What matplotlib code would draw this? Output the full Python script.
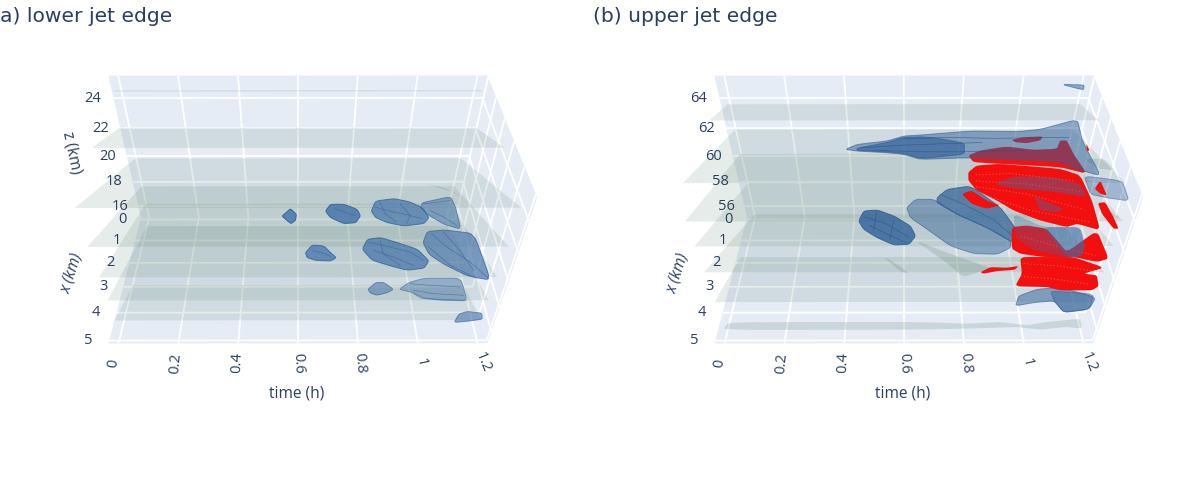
import matplotlib
matplotlib.use('Agg')
import matplotlib.pyplot as plt
from mpl_toolkits.mplot3d import proj3d
from mpl_toolkits.mplot3d.art3d import Poly3DCollection

plt.rcParams['grid.color'] = 'white'
plt.rcParams['grid.linewidth'] = 1.3
plt.rcParams['font.family'] = ['Open Sans', 'DejaVu Sans']

INK = '#2a3f5f'

time_ticks = [0, 0.2, 0.4, 0.6, 0.8, 1, 1.2]
time_labels = ['0', '0.2', '0.4', '0.6', '0.8', '1', '1.2']
time_rot = [82, 85, 88, -88, -85, -78, -68]
x_ticks = [0, 1, 2, 3, 4, 5]
lower_z_ticks = [16, 18, 20, 22, 24]
upper_z_ticks = [56, 58, 60, 62, 64]

# sheets: x and z at far edge, x and z at near edge
lower_sheets = [
    (0.32, 15.0, 4.93, 18.2),
    (-0.04, 16.3, 5.0, 20.1),
    (0.0, 17.8, 5.1, 22.4),
    (0.02, 20.0, 5.1, 24.8),
    (0.78, 23.2, 3.2, 25.3),
    (2.94, 15.0, 4.9, 16.5),
    (0.5, 25.2, 0.6, 25.25),
]
upper_sheets = [
    (2.2, 55.9, 4.9, 58.0),
    (-0.09, 55.3, 4.97, 60.4),
    (-0.09, 57.9, 5.03, 62.3),
    (0.0, 60.3, 5.1, 64.0),
    (-0.03, 62.0, 4.6, 65.4),
    (0.14, 63.9, 1.95, 65.2),
]

# outlines, (t list, x list)
lower_blobs = [
    ([.545, .562, .573, .593, .590, .575, .557], [2.617, 2.532, 2.474, 2.584, 2.701, 2.765, 2.681]),
    ([.690, .707, .752, .796, .807, .791, .752, .707], [2.52, 2.39, 2.39, 2.487, 2.617, 2.746, 2.765, 2.649]),
    ([.843, .858, .919, .969, 1.014, 1.036, 1.019, .952, .897, .858], [2.52, 2.326, 2.28, 2.339, 2.455, 2.649, 2.765, 2.811, 2.746, 2.649]),
    ([1.014, 1.108, 1.125, 1.142, 1.086, 1.03, 1.008], [2.358, 2.241, 2.455, 2.875, 2.778, 2.584, 2.455]),
    ([.623, .646, .685, .707, .726, .707, .657, .629], [3.328, 3.179, 3.199, 3.328, 3.425, 3.49, 3.477, 3.425]),
    ([.813, .83, .874, .93, .997, 1.036, 1.019, .963, .908, .846], [3.263, 3.07, 3.037, 3.134, 3.263, 3.49, 3.632, 3.671, 3.587, 3.477]),
    ([1.016, 1.03, 1.086, 1.186, 1.242, 1.164, 1.086, 1.036], [3.134, 2.921, 2.888, 2.96, 3.865, 3.781, 3.555, 3.36]),
    ([.832, .858, .885, .917, .897, .863, .841], [4.04, 3.91, 3.91, 4.04, 4.104, 4.156, 4.117]),
    ([.936, .969, 1.019, 1.142, 1.164, 1.075, 1.019, .98], [4.04, 3.91, 3.826, 3.826, 4.266, 4.253, 4.214, 4.104]),
    ([1.12, 1.136, 1.164, 1.212, 1.214, 1.175], [4.686, 4.525, 4.473, 4.505, 4.622, 4.654]),
]
lower_blob_alpha = [.8, .8, .68, .52, .72, .7, .62, .52, .42, .55]

lower_cracks = [
    ([.857, .919, .952, 1.014], [2.454, 2.551, 2.584, 2.681]),
    ([.874, .891, .93], [2.357, 2.584, 2.745]),
    ([.941, .975, .963], [2.39, 2.616, 2.778]),
    ([.835, .908, .975, 1.019], [3.134, 3.231, 3.328, 3.489]),
    ([.852, .919, .986], [3.295, 3.425, 3.586]),
    ([.874, .885, .941], [3.101, 3.36, 3.586]),
    ([1.047, 1.097, 1.175, 1.237], [2.972, 3.231, 3.522, 3.845]),
    ([1.036, 1.109, 1.198], [3.231, 3.586, 3.845]),
    ([1.086, 1.131, 1.187], [2.939, 3.231, 3.683]),
    ([1.019, 1.07, 1.108], [2.39, 2.357, 2.325]),
    ([1.041, 1.086, 1.131], [2.519, 2.648, 2.81]),
    ([.975, 1.042, 1.142], [3.942, 3.974, 4.007]),
    ([.986, 1.053, 1.153], [4.071, 4.136, 4.168]),
    ([.986, 1.014, 1.164], [4.136, 4.233, 4.265]),
    ([.72, .76, .79], [2.48, 2.56, 2.62]),
    ([.65, .69, .71], [3.3, 3.36, 3.42]),
]

lower_green = [
    ([1.03, 1.097, 1.159, 1.12], [2.002, 2.099, 2.313, 2.164]),
]

upper_green = [
    ([.531, .553, .62, .592], [3.425, 3.477, 3.748, 3.716]),
    ([.637, .754, .91, .865, .798, .732], [3.102, 3.36, 3.684, 3.684, 3.813, 3.49]),
    ([1.2, 1.267, 1.306, 1.25], [1.517, 1.517, 1.743, 1.711]),
    ([1.256, 1.322, 1.289], [2.39, 2.681, 2.649]),
    ([-.004, .013, .654, .81, .921, 1.01, 1.077, 1.189, 1.194, 1.144, 1.055, .977, .81, .587],
     [4.835, 4.686, 4.686, 4.719, 4.686, 4.751, 4.686, 4.622, 4.816, 4.783, 4.835, 4.783, 4.816, 4.835]),
]

# under the blue ones
upper_red_back = [
    ([.815, .854, .943, 1.033, 1.111, 1.122, 1.144, 1.166, 1.211, 1.122, .921, .832],
     [1.452, 1.355, 1.278, 1.342, 1.323, 1.161, 1.161, 1.42, 1.808, 1.679, 1.614, 1.582]),
    ([.96, .999, 1.064, 1.055, 1.01, .971], [1.148, 1.097, 1.084, 1.161, 1.213, 1.194]),
]

upper_blue = [
    ([.403, .442, .542, .598, .654, .821, .977, 1.055, 1.178, 1.194, 1.256, 1.178, 1.111, .815, .654, .598, .542, .442],
     [1.323, 1.226, 1.161, 1.064, 1.045, .967, .98, .935, .741, 1.161, 1.84, 1.711, 1.549, 1.485, 1.517, 1.42, 1.388, 1.355]),
    ([.442, .542, .598, .654, .7, .8, .8, .654, .598, .542, .442], [1.3, 1.19, 1.09, 1.08, 1.1, 1.2, 1.42, 1.5, 1.4, 1.37, 1.34]),
    ([.447, .464, .509, .565, .62, .637, .615, .565, .509, .464], [2.714, 2.52, 2.5, 2.617, 2.811, 3.005, 3.166, 3.179, 3.037, 2.875]),
    ([.607, .637, .698, .776, .876, .954, .954, .91, .832, .754, .676, .62], [2.455, 2.293, 2.293, 2.584, 2.843, 3.102, 3.231, 3.36, 3.348, 3.199, 2.875, 2.649]),
    ([.709, .743, .821, .921, .977, .988, .954, .876, .776, .709], [2.261, 2.099, 2.035, 2.455, 2.908, 3.231, 3.102, 2.843, 2.584, 2.358]),
    ([.971, .982, 1.044, 1.122, 1.239, 1.217, 1.133, 1.1, 1.033], [4.363, 4.169, 4.04, 4.007, 4.201, 4.428, 4.492, 4.266, 4.298]),
    ([1.088, 1.233, 1.217, 1.133, 1.1], [4.072, 4.137, 4.428, 4.492, 4.266]),
    ([1.2, 1.328, 1.35, 1.272, 1.222], [1.84, 1.937, 2.326, 2.261, 2.196]),
    ([1.125, 1.2, 1.198], [.062, .075, .172]),
]
upper_blue_alpha = [.5, .6, .8, .45, .7, .5, .4, .38, .5]

upper_cracks = [
    ([.47, .542, .615], [2.649, 2.778, 3.037]),
    ([.486, .553, .604], [2.811, 3.005, 3.134]),
    ([.509, .498], [2.552, 2.908]),
    ([.565, .553], [2.714, 3.07]),
    ([.46, .6, .75, .86], [1.3, 1.25, 1.22, 1.2]),
    ([.5, .65, .8, 1.0], [1.35, 1.38, 1.38, 1.35]),
    ([.6, .75, .9, 1.15], [1.13, 1.1, 1.12, 1.1]),
    ([.72, .8, .9, .98], [2.2, 2.4, 2.7, 3.1]),
]

upper_red = [
    ([.815, .843, .921, 1.122, 1.189, 1.228, 1.256, 1.178, 1.144, 1.055, .966, .91, .843, .815],
     [1.776, 1.646, 1.614, 1.711, 1.84, 2.326, 2.908, 2.778, 2.843, 2.714, 2.52, 2.326, 2.131, 1.937]),
    ([.793, .826, .876, .921, .876, .826], [2.196, 2.131, 2.326, 2.423, 2.487, 2.39]),
    ([.96, 1.01, 1.077, 1.111, 1.144, 1.245, 1.284, 1.245, 1.166, 1.066, .988, .96],
     [2.843, 2.811, 2.875, 3.102, 3.328, 2.908, 3.457, 3.522, 3.425, 3.425, 3.36, 3.263]),
    ([.988, 1.088, 1.166, 1.269, 1.2, 1.245, 1.25, 1.228, 1.122, 1.077, .971, .994],
     [3.425, 3.425, 3.425, 3.632, 3.748, 3.781, 3.994, 4.072, 4.072, 4.007, 3.994, 3.748]),
    ([.856, .888, .943, .982, .971, .91, .865], [3.716, 3.62, 3.632, 3.6, 3.671, 3.697, 3.748]),
    ([1.248, 1.272, 1.3, 1.317, 1.3, 1.261], [2.377, 2.358, 2.649, 2.875, 2.875, 2.584]),
    ([1.237, 1.256, 1.278, 1.256], [2.099, 1.937, 2.229, 2.196]),
    ([1.209, 1.22, 1.211], [1.226, 1.355, 1.368]),
]

# pale marks on the red surface
red_light = [
    ([.84, .955, 1.17], [1.83, 1.8, 1.95]),
    ([.84, 1.0, 1.19], [1.95, 2.0, 2.15]),
    ([.83, 1.01, 1.2], [2.05, 2.2, 2.5]),
    ([.87, 1.01, 1.22], [2.22, 2.5, 2.75]),
    ([.99, 1.1, 1.24], [3.02, 3.2, 3.4]),
    ([1.0, 1.12, 1.24], [3.55, 3.6, 3.7]),
    ([.99, 1.1, 1.22], [3.8, 3.85, 3.95]),
]

# blue over the red
upper_blue_front = [
    ([.966, 1.066, 1.189, 1.205, 1.189, 1.144, 1.033, .971], [2.584, 2.843, 2.843, 3.231, 3.425, 3.425, 3.296, 3.037]),
    ([1.066, 1.189, 1.205, 1.189, 1.144, 1.1], [2.843, 2.843, 3.231, 3.425, 3.425, 3.1]),
    ([.899, .966, 1.1, 1.189, 1.211, 1.111, .977], [2.002, 1.86, 1.873, 2.002, 2.261, 2.164, 2.099]),
    ([1.033, 1.066, 1.133, 1.111, 1.055], [2.229, 2.326, 2.487, 2.552, 2.52]),
]
upper_front_alpha = [.3, .45, .4, .4]


def smooth(values, rounds=2):
    # light corner cutting so the outlines are not angular
    for _ in range(rounds):
        out = []
        for a, b in zip(values, values[1:] + values[:1]):
            out += [0.88 * a + 0.12 * b, 0.12 * a + 0.88 * b]
        values = out
    return values


def plane_z(x, z_top):
    # blobs sit on the tilted plane facing the camera
    return [z_top - 2 * (v + 0.1) for v in x]


def add_blob(ax, t, x, z_top, color, edge, alpha, order):
    t, x = smooth(t), smooth(x)
    face = matplotlib.colors.to_rgba(color, alpha)
    line = 'none' if edge is None else [matplotlib.colors.to_rgba(edge, min(alpha + 0.1, 1))]
    poly = Poly3DCollection([list(zip(t, x, plane_z(x, z_top)))], facecolors=[face], edgecolors=line, linewidths=0.7)
    poly.set_zorder(order)
    ax.add_collection3d(poly, autolim=False)


def add_lines(ax, lines, z_top, color, alpha, order, width=0.5, style='-'):
    for t, x in lines:
        ax.plot(t, x, plane_z(x, z_top), color=color, alpha=alpha, lw=width, ls=style, zorder=order)


def put_text(ax, x, y, z, s, rot=0):
    xp, yp, _ = proj3d.proj_transform(x, y, z, ax.get_proj())
    ax.text2D(xp, yp, s, transform=ax.transData, rotation=rot, color=INK, fontsize=10.5, ha='center', va='center')


def make_axes(left, zlo, zhi, z_ticks):
    ax = plt.gcf().add_axes([left / 1200, 44 / 500, 480 / 1200, 480 / 500], projection='3d')
    ax.patch.set_alpha(0)
    ax.computed_zorder = False
    ax.set_xlim(-0.033, 1.233, view_margin=0)
    ax.set_ylim(5.1, -0.1, view_margin=0)
    ax.set_zlim(zlo, zhi, view_margin=0)
    # focal_length also pushes the eye back, so zoom and focal go together
    ax.set_box_aspect((2.08, 1, 1.077), zoom=0.9386)
    ax.set_proj_type('persp', focal_length=0.248)
    ax.view_init(elev=43, azim=-90.05)
    ax.set_xticks(time_ticks)
    ax.set_yticks(x_ticks)
    ax.set_zticks(z_ticks)
    ax.set_xticklabels([])
    ax.set_yticklabels([])
    ax.set_zticklabels([])
    for axis in (ax.xaxis, ax.yaxis, ax.zaxis):
        axis.set_pane_color('#e5ecf6')
        axis.pane.set_edgecolor('none')
        axis.line.set_color('none')
        axis._axinfo['tick']['inward_factor'] = 0
        axis._axinfo['tick']['outward_factor'] = 0
    ax.tick_params(color='none')

    for v, s, r in zip(time_ticks, time_labels, time_rot):
        put_text(ax, v, 5.75, zlo, s, r)
    for v in x_ticks:
        put_text(ax, -0.105, v, zlo, str(v))
    for v in z_ticks:
        put_text(ax, -0.105, -0.1, v, str(v))
    return ax


def add_sheets(ax, sheets):
    for i, (x0, z0, x1, z1) in enumerate(sheets):
        verts = [[(0, x0, z0), (1.2, x0, z0), (1.2, x1, z1), (0, x1, z1)]]
        poly = Poly3DCollection(verts, facecolors=[(0.345, 0.502, 0.424, 0.15)], edgecolors='none')
        poly.set_zorder(2 + i * 0.01)
        ax.add_collection3d(poly, autolim=False)


fig = plt.figure(figsize=(12, 5), dpi=100)

ax1 = make_axes(51.5, 15, 25.4, lower_z_ticks)
add_sheets(ax1, lower_sheets)
for t, x in lower_green:
    add_blob(ax1, t, x, 25.4, '#58806c', None, 0.3, 3)
for (t, x), a in zip(lower_blobs, lower_blob_alpha):
    add_blob(ax1, t, x, 25.4, '#3f6fa6', '#2f62a0', a, 4)
add_lines(ax1, lower_cracks, 25.4, '#2a5a9a', 0.55, 5)

ax2 = make_axes(657.5, 55, 65.4, upper_z_ticks)
add_sheets(ax2, upper_sheets)
for t, x in upper_green:
    add_blob(ax2, t, x, 65.4, '#58806c', None, 0.2, 3)
for t, x in upper_red_back:
    add_blob(ax2, t, x, 65.4, '#f01414', None, 1, 4)
for (t, x), a in zip(upper_blue, upper_blue_alpha):
    add_blob(ax2, t, x, 65.4, '#2f5f97', '#2f5f97', a, 5)
add_lines(ax2, upper_cracks, 65.4, '#1f4f8c', 0.6, 5.5)
for t, x in upper_red:
    add_blob(ax2, t, x, 65.4, '#f40f0f', None, 1, 6)
add_lines(ax2, red_light, 65.4, '#ff8080', 0.55, 6.5, width=0.8, style=(0, (1, 2)))
for (t, x), a in zip(upper_blue_front, upper_front_alpha):
    add_blob(ax2, t, x, 65.4, '#3c6ca3', None, a, 7)

fig.text(0, 1 - 17 / 500, 'a) lower jet edge', family='DejaVu Sans', fontsize=14.6, color=INK, va='center')
fig.text(593 / 1200, 1 - 17 / 500, '(b) upper jet edge', family='DejaVu Sans', fontsize=14.6, color=INK, va='center')
for dx in (0, 606):
    fig.text((297 + dx) / 1200, 1 - 394 / 500, 'time (h)', fontsize=11.2, color=INK, ha='center', va='center')
    fig.text((72 + dx) / 1200, 1 - 273 / 500, 'x (km)', fontsize=11.2, color=INK, rotation=72, style='italic', ha='center', va='center')
fig.text(72 / 1200, 1 - 153 / 500, 'z (km)', fontsize=11.2, color=INK, rotation=-78, ha='center', va='center')

fig.savefig('out.png', dpi=100)
